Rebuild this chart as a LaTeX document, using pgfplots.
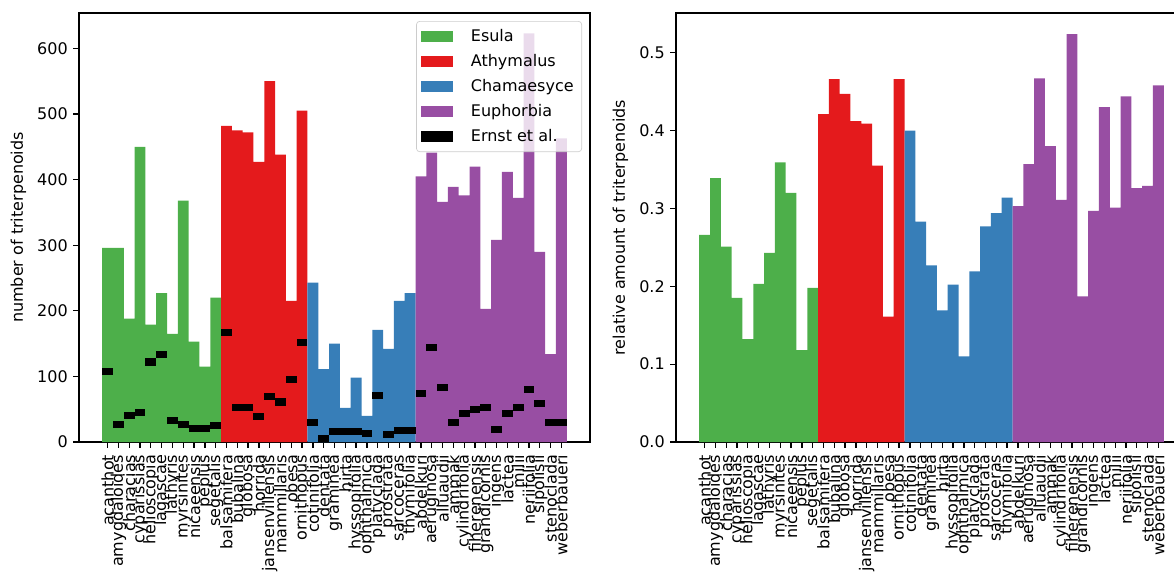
\documentclass[border=0pt]{standalone}
\usepackage{fontspec}
\setmainfont{DejaVu Sans}
\usepackage{pgfplots}
\usepackage{pgfplotstable}
\pgfplotsset{compat=1.18}
\definecolor{cEsula}{HTML}{4DAF4A}
\definecolor{cAthy}{HTML}{E41A1C}
\definecolor{cCham}{HTML}{377EB8}
\definecolor{cEuph}{HTML}{984EA3}

\pgfplotstableread{
x count ernst rel
0 296 108 0.266
1 296 27 0.339
2 188 41 0.251
3 450 45 0.185
4 179 122 0.132
5 227 134 0.203
6 165 33 0.243
7 368 27 0.359
8 153 21 0.320
9 115 21 0.118
10 220 25 0.198
}\esula
\pgfplotstableread{
x count ernst rel
11 482 167 0.421
12 475 53 0.466
13 472 53 0.447
14 427 39 0.412
15 550 70 0.409
16 438 61 0.355
17 215 96 0.161
18 505 151 0.466
}\athy
\pgfplotstableread{
x count ernst rel
19 243 30 0.400
20 111 5 0.283
21 150 16 0.227
22 52 16 0.169
23 98 16 0.202
24 40 13 0.110
25 171 71 0.219
26 142 12 0.277
27 215 18 0.294
28 227 18 0.314
}\cham
\pgfplotstableread{
x count ernst rel
29 405 74 0.303
30 441 144 0.357
31 366 83 0.467
32 389 30 0.380
33 376 44 0.311
34 420 50 0.524
35 203 52 0.187
36 308 19 0.297
37 412 44 0.430
38 372 52 0.301
39 623 80 0.444
40 290 59 0.326
41 134 30 0.329
42 463 30 0.458
}\euph

\pgfdeclareplotmark{ernst}{\pgfpathrectangle{\pgfpoint{-3.376pt}{-2.2pt}}{\pgfpoint{6.752pt}{4.4pt}}\pgfusepathqfill}

\pgfplotsset{
  patch/.style={legend image code/.code={\fill[#1, fill opacity=1, sharp corners] (0pt,-3.5pt) rectangle (20pt,3.5pt);}},
  gbar/.style={ybar, bar width=1, bar shift=0pt, draw=none, fill=#1, patch=#1},
  common/.style={
    width=319.375pt, height=268.125pt, scale only axis,
    xmin=-2.65, xmax=44.65, ymin=0,
    enlargelimits=false,
    axis line style={line width=0.8pt},
    tick align=outside, tick pos=left,
    major tick length=3.5pt,
    tick style={line width=0.8pt, black},
    xtick={0,...,42},
    xticklabels={acanthot,amygdaloides,characias,cyparissias,helioscopia,lagascae,lathyris,myrsinites,nicaeensis,peplus,segetalis,balsamifera,bubalina,globosa,horrida,jansenvillensis,mammillaris,obesa,ornithopus,cotinifolia,dentata,graminea,hirta,hyssopifolia,ophthalmica,platyclada,prostrata,sarcoceras,thymifolia,abdelkuri,aeruginosa,alluaudii,ammak,cylindrifolia,fiherenensis,grandicornis,ingens,lactea,milii,neriifolia,sipolisii,stenoclada,weberbaueri},
    xticklabel style={rotate=90, anchor=east, font=\fontsize{10}{12}\selectfont, xshift=-1pt},
    yticklabel style={font=\fontsize{10}{12}\selectfont},
    label style={font=\fontsize{10}{12}\selectfont},
    /pgf/number format/assume math mode=true,
  },
}

\begin{document}
\begin{tikzpicture}
\begin{axis}[common, at={(0pt,0pt)}, anchor=south west,
  ymax=654, ytick={0,100,...,600},
  ylabel={number of triterpenoids},
  legend cell align=left,
  legend style={at={(1,1)}, anchor=north east, xshift=-5pt, yshift=-5pt,
    draw=black!20, rounded corners=2pt, fill=white, fill opacity=0.8,
    draw opacity=1, text opacity=1, font=\fontsize{10}{12}\selectfont,
    row sep=2.5pt, column sep=9pt, inner xsep=3pt, inner ysep=3pt},
]
\addplot[gbar=cEsula] table[x=x, y=count] {\esula};
\addlegendentry{Esula}
\addplot[gbar=cAthy] table[x=x, y=count] {\athy};
\addlegendentry{Athymalus}
\addplot[gbar=cCham] table[x=x, y=count] {\cham};
\addlegendentry{Chamaesyce}
\addplot[gbar=cEuph] table[x=x, y=count] {\euph};
\addlegendentry{Euphorbia}
\addplot[only marks, mark=ernst, fill=black, draw=none, patch=black] table[x=x, y=ernst] {\esula};
\addlegendentry{Ernst et al.}
\addplot[only marks, mark=ernst, fill=black, draw=none, forget plot] table[x=x, y=ernst] {\athy};
\addplot[only marks, mark=ernst, fill=black, draw=none, forget plot] table[x=x, y=ernst] {\cham};
\addplot[only marks, mark=ernst, fill=black, draw=none, forget plot] table[x=x, y=ernst] {\euph};
\end{axis}
\begin{axis}[common, at={(373.125pt,0pt)}, anchor=south west,
  ymax=0.551, ytick={0,0.1,...,0.5},
  yticklabel style={/pgf/number format/.cd, fixed, fixed zerofill, precision=1},
  ylabel={relative amount of triterpenoids},
]
\addplot[gbar=cEsula] table[x=x, y=rel] {\esula};
\addplot[gbar=cAthy] table[x=x, y=rel] {\athy};
\addplot[gbar=cCham] table[x=x, y=rel] {\cham};
\addplot[gbar=cEuph] table[x=x, y=rel] {\euph};
\end{axis}
\pgfresetboundingbox
\path (-49.375pt,-83.75pt) rectangle (684.375pt,276.25pt);
\end{tikzpicture}
\end{document}
